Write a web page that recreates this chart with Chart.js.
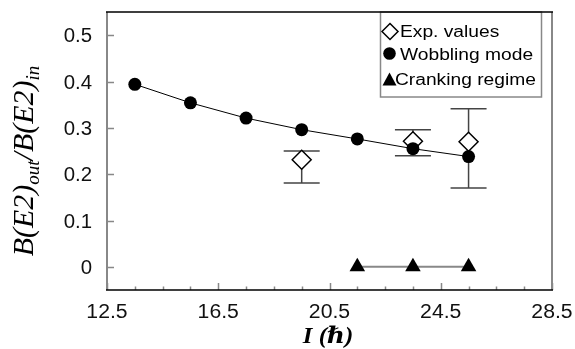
<!DOCTYPE html>
<html>
<head>
<meta charset="utf-8">
<script src="https://cdn.jsdelivr.net/npm/chart.js@4/dist/chart.umd.min.js"></script>
<style>
  html, body { margin: 0; padding: 0; background: #fff; }
  #wrap { width: 575px; height: 349px; position: relative; }
</style>
</head>
<body>
<div id="wrap"><canvas id="c" width="575" height="349"></canvas></div>
<script>
// ---- data ----
const xSpin = [13.5, 15.5, 17.5, 19.5, 21.5, 23.5, 25.5];
const wobblingValues = [0.394, 0.354, 0.321, 0.296, 0.276, 0.255, 0.238];
const expSpin = [19.5, 23.5, 25.5];
const expValues = [0.231, 0.271, 0.270];
const expErrLow = [0.181, 0.240, 0.170];
const expErrHigh = [0.250, 0.296, 0.341];
const crankSpin = [21.5, 23.5, 25.5];
const crankValues = [0, 0, 0];
const xTickValues = [12.5, 16.5, 20.5, 24.5, 28.5];
const yTickValues = [0, 0.1, 0.2, 0.3, 0.4, 0.5];
const legendLabels = ['Exp. values', 'Wobbling mode', 'Cranking regime'];

const pts = (xs, ys) => xs.map((x, i) => ({ x: x, y: ys[i] }));

function stretchText(ctx, text, x, y, align, sx) {
  ctx.save();
  ctx.translate(x, y);
  ctx.scale(sx, 1);
  ctx.textAlign = align;
  ctx.fillText(text, 0, 0);
  ctx.restore();
}

const errorBars = {
  id: 'errorBars',
  beforeDatasetsDraw(chart) {
    const ctx = chart.ctx, xs = chart.scales.x, ys = chart.scales.y;
    ctx.save();
    ctx.strokeStyle = '#444';
    ctx.lineWidth = 1.5;
    expSpin.forEach((x, i) => {
      const px = xs.getPixelForValue(x);
      const pLo = ys.getPixelForValue(expErrLow[i]);
      const pHi = ys.getPixelForValue(expErrHigh[i]);
      ctx.beginPath();
      ctx.moveTo(px, pLo); ctx.lineTo(px, pHi);
      ctx.moveTo(px - 18, pLo); ctx.lineTo(px + 18, pLo);
      ctx.moveTo(px - 18, pHi); ctx.lineTo(px + 18, pHi);
      ctx.stroke();
    });
    ctx.restore();
  }
};

const frameAndText = {
  id: 'frameAndText',
  afterDraw(chart) {
    const ctx = chart.ctx, xs = chart.scales.x, ys = chart.scales.y;
    const a = chart.chartArea;
    ctx.save();
    // ticks (inside)
    ctx.strokeStyle = '#888';
    ctx.lineWidth = 1.5;
    ctx.beginPath();
    yTickValues.forEach(v => {
      const py = Math.round(ys.getPixelForValue(v)) + 0.5;
      ctx.moveTo(a.left, py); ctx.lineTo(a.left + 7, py);
    });
    for (let v = xs.min; v <= xs.max + 1e-9; v += 1) {
      const px = Math.round(xs.getPixelForValue(v)) + 0.5;
      const major = xTickValues.some(t => Math.abs(t - v) < 1e-6);
      ctx.moveTo(px, a.bottom); ctx.lineTo(px, a.bottom - (major ? 7 : 3.5));
    }
    ctx.stroke();

    // legend box
    const lx = 380, ly = a.top, lw = 161, lh = 85;
    ctx.strokeStyle = '#888';
    ctx.lineWidth = 1.5;
    ctx.strokeRect(lx + 0.5, ly, lw, lh);

    // frame
    ctx.strokeStyle = '#888';
    ctx.lineWidth = 2;
    ctx.beginPath();
    ctx.moveTo(a.left, a.top); ctx.lineTo(a.left, a.bottom);
    ctx.moveTo(a.right, a.top); ctx.lineTo(a.right, a.bottom);
    ctx.stroke();
    ctx.strokeStyle = '#000';
    ctx.lineWidth = 1.5;
    ctx.beginPath();
    ctx.moveTo(a.left - 1, a.top); ctx.lineTo(a.right + 1, a.top);
    ctx.moveTo(a.left - 1, a.bottom); ctx.lineTo(a.right + 1, a.bottom);
    ctx.stroke();

    // legend markers
    ctx.fillStyle = '#000';
    ctx.strokeStyle = '#000';
    ctx.lineWidth = 1.5;
    ctx.beginPath();
    ctx.moveTo(390, 23.5); ctx.lineTo(398, 31.5); ctx.lineTo(390, 39.5); ctx.lineTo(382, 31.5); ctx.closePath();
    ctx.fillStyle = '#fff'; ctx.fill(); ctx.stroke();
    ctx.fillStyle = '#000';
    ctx.beginPath(); ctx.arc(389.5, 53.5, 6.3, 0, Math.PI * 2); ctx.fill();
    ctx.beginPath();
    ctx.moveTo(389.5, 72.5); ctx.lineTo(396.5, 85.5); ctx.lineTo(382.5, 85.5); ctx.closePath(); ctx.fill();

    // legend text
    ctx.font = '16px "Liberation Sans", Arial, sans-serif';
    ctx.textBaseline = 'alphabetic';
    ctx.fillStyle = '#000';
    stretchText(ctx, legendLabels[0], 400, 36.5, 'left', 1.2);
    stretchText(ctx, legendLabels[1], 400, 60, 'left', 1.2);
    stretchText(ctx, legendLabels[2], 395, 84.5, 'left', 1.2);

    // tick labels
    ctx.font = '20px "Liberation Sans", Arial, sans-serif';
    ctx.fillStyle = '#111';
    yTickValues.forEach(v => {
      const py = ys.getPixelForValue(v);
      stretchText(ctx, String(v), 92, py + 7, 'right', 1.02);
    });
    xTickValues.forEach(v => {
      const px = xs.getPixelForValue(v);
      stretchText(ctx, v.toFixed(1), px, 318, 'center', 1.06);
    });

    // x title: I (ℏ)
    ctx.fillStyle = '#000';
    ctx.textAlign = 'left';
    const f1 = 'bold italic 23px "Liberation Serif", "Times New Roman", serif';
    const f2 = 'bold italic 23px "Liberation Serif", "DejaVu Serif", serif';
    ctx.font = f1; const w1 = ctx.measureText('I ').width;
    ctx.font = f2; const w2 = ctx.measureText('(\u210F)').width;
    const sxT = 1.08;
    const startX = 328 - (w1 + w2) * sxT / 2;
    ctx.save();
    ctx.translate(startX, 343);
    ctx.scale(sxT, 1);
    ctx.font = f1; ctx.fillText('I ', 0, 0);
    ctx.font = f2; ctx.fillText('(\u210F)', w1, 0);
    ctx.restore();

    // y title: B(E2)_out / B(E2)_in
    const big = 'italic 30px "Liberation Serif", "Times New Roman", serif';
    const small = 'italic 19px "Liberation Serif", "Times New Roman", serif';
    const parts = [
      { t: 'B(E2)', f: big, dy: 0 },
      { t: 'out', f: small, dy: 6 },
      { t: '/B(E2)', f: big, dy: 0 },
      { t: 'in', f: small, dy: 6 }
    ];
    let total = 0;
    parts.forEach(p => { ctx.font = p.f; p.w = ctx.measureText(p.t).width; total += p.w; });
    ctx.save();
    ctx.translate(33.3, 161);
    ctx.rotate(-Math.PI / 2);
    let u = -total / 2;
    parts.forEach(p => {
      ctx.font = p.f;
      ctx.fillText(p.t, u, p.dy);
      u += p.w;
    });
    ctx.restore();

    ctx.restore();
  }
};

new Chart(document.getElementById('c'), {
  type: 'scatter',
  data: {
    datasets: [
      {
        label: legendLabels[1],
        data: pts(xSpin, wobblingValues),
        showLine: true,
        borderColor: '#000',
        borderWidth: 1,
        pointStyle: 'circle',
        pointRadius: 6.5,
        pointBackgroundColor: '#000',
        pointBorderWidth: 0
      },
      {
        label: legendLabels[0],
        data: pts(expSpin, expValues),
        showLine: false,
        pointStyle: 'rectRot',
        pointRadius: 9.5,
        pointBackgroundColor: '#fff',
        pointBorderColor: '#000',
        pointBorderWidth: 1.5
      },
      {
        label: legendLabels[2],
        data: pts(crankSpin, crankValues),
        showLine: true,
        borderColor: '#888',
        borderWidth: 2,
        pointStyle: 'triangle',
        pointRadius: 9,
        pointBackgroundColor: '#000',
        pointBorderWidth: 0
      }
    ]
  },
  options: {
    responsive: false,
    animation: false,
    events: [],
    layout: { padding: { left: 0, top: 12, right: 23, bottom: 0 } },
    plugins: { legend: { display: false }, tooltip: { enabled: false } },
    scales: {
      x: {
        type: 'linear', min: 12.5, max: 28.5,
        grid: { display: false, drawTicks: false },
        border: { display: false },
        ticks: { display: false },
        afterBuildTicks: s => { s.ticks = xTickValues.map(v => ({ value: v })); },
        afterFit: s => { s.height = 59; }
      },
      y: {
        type: 'linear', min: -0.05, max: 0.55,
        grid: { display: false, drawTicks: false },
        border: { display: false },
        ticks: { display: false },
        afterBuildTicks: s => { s.ticks = yTickValues.map(v => ({ value: v })); },
        afterFit: s => { s.width = 107; }
      }
    }
  },
  plugins: [errorBars, frameAndText]
});
</script>
</body>
</html>
